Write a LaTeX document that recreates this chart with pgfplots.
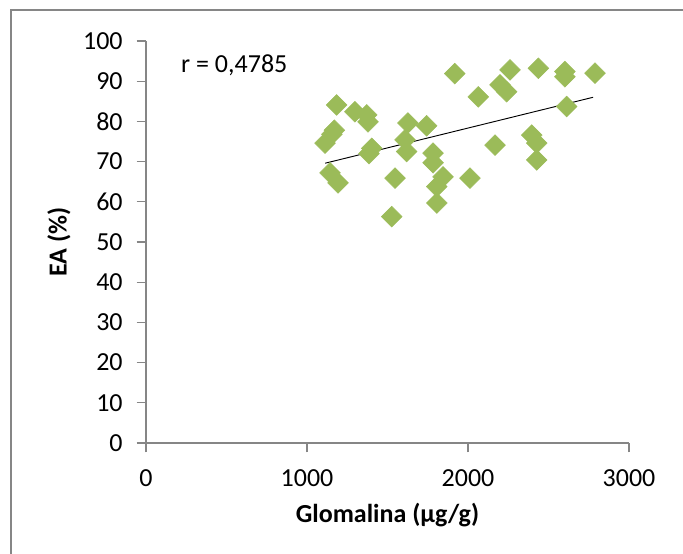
\documentclass[border=0pt]{standalone}
\usepackage{fontspec}
\setmainfont{Carlito}
\usepackage{pgfplots}
\pgfplotsset{compat=1.18}
\definecolor{exgreen}{RGB}{155,187,89}
\definecolor{axgray}{RGB}{134,134,134}

\begin{document}
\begin{tikzpicture}
\clip (-109.5pt,-83.25pt) rectangle (402.75pt,332.25pt);
\begin{axis}[
  at={(0pt,0pt)}, anchor=origin,
  scale only axis, width=362.25pt, height=301.5pt,
  xmin=0, xmax=3000, ymin=0, ymax=100,
  axis x line=bottom, axis y line=left,
  axis line style={axgray, line width=0.8pt, -},
  tick style={axgray, line width=0.8pt},
  tick align=outside, major tick length=7pt,
  xtick={0,1000,2000,3000}, ytick={0,10,...,100},
  font=\fontsize{19.5}{22}\selectfont,
  tick label style={font=\fontsize{19.5}{22}\selectfont},
  yticklabel style={xshift=-7pt},
  xticklabel style={yshift=-9.5pt},
  /pgf/number format/assume math mode=true,
  /pgf/number format/set thousands separator={},
  xlabel={\textbf{Glomalina (μg/g)}},
  ylabel={\textbf{EA (\%)}},
  xlabel style={at={(axis description cs:0.5,-0.179)}, anchor=center},
  ylabel style={at={(axis description cs:-0.180,0.5)}, anchor=center},
  clip=false,
]
\addplot[only marks, mark=square*, mark size=5.5pt,
  mark options={rotate=45, fill=exgreen, draw=exgreen}] coordinates {
(1184,84.1) (1298,82.4) (1371,81.6) (1379,79.9) (1170,77.8) (1155,76.8)
(1112,74.6) (1402,73.3) (1385,72.0) (1143,67.2) (1193,64.7)
(1627,79.6) (1743,78.9) (1609,75.4) (1619,72.5) (1783,72.1) (1783,69.7)
(1547,65.9) (1845,66.2) (1806,63.8) (1806,59.7) (1526,56.3) (2012,65.9)
(1918,91.9) (2261,92.8) (2437,93.2) (2602,92.4) (2602,91.1) (2789,92.0)
(2199,89.1) (2240,87.4) (2064,86.1) (2613,83.7) (2396,76.6) (2427,74.6)
(2427,70.4) (2168,74.1)
};
\addplot[black, line width=0.7pt] coordinates {(1113,69.6) (2777,86.0)};
\node[anchor=west, inner sep=0pt] at (axis cs:217,94) {r = 0,4785};
\end{axis}
\draw[axgray, line width=1.5pt] (-101.25pt,-120pt) -- (-101.25pt,324.75pt) -- (430pt,324.75pt);
\end{tikzpicture}
\end{document}
